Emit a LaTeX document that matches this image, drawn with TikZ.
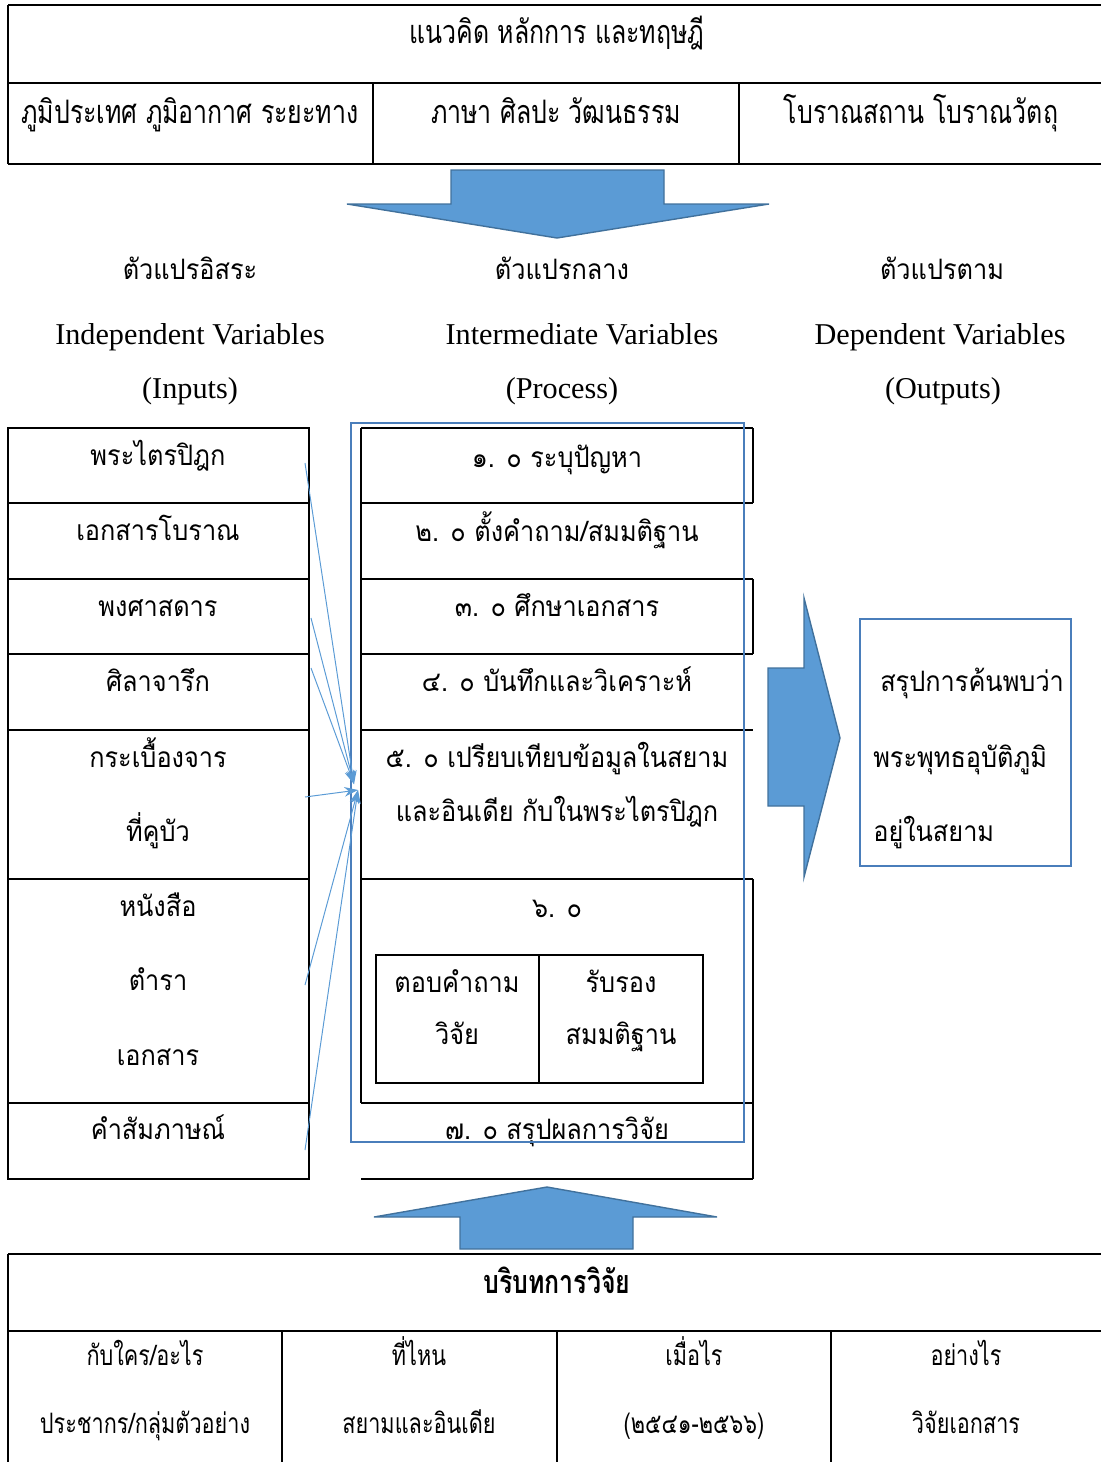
\documentclass[tikz,border=0pt]{standalone}
\usepackage{fontspec}
\setmainfont{Liberation Serif}
\newfontfamily\thaifont[Script=Thai,FakeStretch=0.9]{Loma}
\newfontfamily\thaitall[Script=Thai,FakeStretch=0.77]{Loma}
\usepackage{tikz}
\usetikzlibrary{arrows.meta}
\definecolor{bluex}{HTML}{5B9BD5}
\definecolor{blueedge}{HTML}{41719C}
\definecolor{framex}{HTML}{4A7EBB}
\tikzset{
  grid/.style={line width=1.3pt,black},
  thingrid/.style={line width=0.8pt,black},
  bigarrow/.style={fill=bluex,draw=blueedge,line width=1pt,line join=miter},
  feed/.style={-{Stealth[length=3.4mm,width=2.4mm]},bluex,line width=0.7pt},
  frame/.style={draw=framex,line width=1.8pt},
  cell/.style={font=\thaifont\fontsize{20}{24}\selectfont,inner sep=0pt,anchor=base},
  tabtext/.style={font=\thaitall\fontsize{23}{27}\selectfont,inner sep=0pt,anchor=base},
  ctxtext/.style={font=\thaitall\fontsize{20}{24}\selectfont,inner sep=0pt,anchor=base},
  head/.style={font=\fontsize{21.5}{25}\selectfont,inner sep=0pt,anchor=base}
}
\begin{document}
\begin{tikzpicture}[x=0.025cm,y=-0.025cm]
\useasboundingbox (0,0) rectangle (1101,1462);
% top table: concepts
\draw[grid] (8,5) -- (1101,5) (8,83) -- (1101,83) (8,164) -- (1101,164);
\draw[grid] (8,5) -- (8,164) (373,83) -- (373,164) (739,83) -- (739,164);
\node[tabtext] (concept) at (557,43) {แนวคิด หลักการ และทฤษฎี};
\node[tabtext] (geo) at (190,123) {ภูมิประเทศ ภูมิอากาศ ระยะทาง};
\node[tabtext] (lang) at (556,123) {ภาษา ศิลปะ วัฒนธรรม};
\node[tabtext] (site) at (921,123) {โบราณสถาน โบราณวัตถุ};
\draw[bigarrow] (451,170) -- (664,170) -- (664,204) -- (769,204) -- (557,238)
  -- (347,204) -- (451,204) -- cycle;
% headings
\node[cell] (hin) at (190,279) {ตัวแปรอิสระ};
\node[cell] (hmid) at (562,279) {ตัวแปรกลาง};
\node[cell] (hout) at (942,279) {ตัวแปรตาม};
\node[head] (ein) at (190,344) {Independent Variables};
\node[head] (emid) at (582,344) {Intermediate Variables};
\node[head] (eout) at (940,344) {Dependent Variables};
\node[head] (pin) at (190,398) {(Inputs)};
\node[head] (pmid) at (562,398) {(Process)};
\node[head] (pout) at (943,398) {(Outputs)};
% inputs column
\draw[grid] (8,428) rectangle (309,1179);
\foreach \yy in {503,579,654,730,879,1103}
  \draw[grid] (8,\yy) -- (309,\yy);
\node[cell] (in1) at (158,465) {พระไตรปิฎก};
\node[cell] (in2) at (158,540) {เอกสารโบราณ};
\node[cell] (in3) at (158,616) {พงศาสดาร};
\node[cell] (in4) at (158,691) {ศิลาจารึก};
\node[cell] (in5) at (158,767) {กระเบื้องจาร};
\node[cell] (in5b) at (158,841) {ที่คูบัว};
\node[cell] (in6) at (158,916) {หนังสือ};
\node[cell] (in6b) at (158,990) {ตำรา};
\node[cell] (in6c) at (158,1065) {เอกสาร};
\node[cell] (in7) at (158,1139) {คำสัมภาษณ์};
% process column
\foreach \yy in {428,503,579,654,730,879,1103,1179}
  \draw[grid] (361,\yy) -- (753,\yy);
\draw[thingrid] (361,428) -- (361,1103);
\draw[grid] (753,428) -- (753,503) (753,579) -- (753,654) (753,879) -- (753,1179);
\node[cell] (p1) at (557,467) {๑. ๐ ระบุปัญหา};
\node[cell] (p2) at (557,541) {๒. ๐ ตั้งคำถาม/สมมติฐาน};
\node[cell] (p3) at (557,616) {๓. ๐ ศึกษาเอกสาร};
\node[cell] (p4) at (557,691) {๔. ๐ บันทึกและวิเคราะห์};
\node[cell] (p5) at (557,767) {๕. ๐ เปรียบเทียบข้อมูลในสยาม};
\node[cell] (p5b) at (557,821) {และอินเดีย กับในพระไตรปิฎก};
\node[cell] (p6) at (557,917) {๖. ๐};
\draw[grid] (376,955) rectangle (703,1083) (539,955) -- (539,1083);
\node[cell] (ans) at (457,992) {ตอบคำถาม};
\node[cell] (ansb) at (457,1044) {วิจัย};
\node[cell] (acc) at (621,992) {รับรอง};
\node[cell] (accb) at (621,1044) {สมมติฐาน};
\node[cell] (p7) at (557,1139) {๗. ๐ สรุปผลการวิจัย};
\draw[frame] (351,423) rectangle (744,1142);
% feeds into the process
\coordinate (hub) at (354,784);
\coordinate (hubb) at (358,790);
\coordinate (f1) at (305,463);
\coordinate (f2) at (311,618);
\coordinate (f3) at (311,668);
\coordinate (f4) at (305,797);
\coordinate (f5) at (305,985);
\coordinate (f6) at (305,1150);
\draw[feed] (f1) -- (hub);
\draw[feed] (f2) -- (hub);
\draw[feed] (f3) -- (hub);
\draw[feed] (f4) -- (hubb);
\draw[feed] (f5) -- (hubb);
\draw[feed] (f6) -- (hubb);
% outputs
\draw[bigarrow] (768,668) -- (804,668) -- (804,598) -- (840,738) -- (804,877)
  -- (804,806) -- (768,806) -- cycle;
\draw[frame] (860,619) rectangle (1071,866);
\node[cell,anchor=base west] (out1) at (880,691) {สรุปการค้นพบว่า};
\node[cell,anchor=base west] (out2) at (873,767) {พระพุทธอุบัติภูมิ};
\node[cell,anchor=base west] (out3) at (873,841) {อยู่ในสยาม};
% bottom table: context
\draw[bigarrow] (460,1249) -- (633,1249) -- (633,1217) -- (717,1217) -- (547,1187)
  -- (374,1217) -- (460,1217) -- cycle;
\draw[grid] (8,1254) -- (1101,1254) (8,1331) -- (1101,1331);
\draw[grid] (8,1254) -- (8,1462) (282,1331) -- (282,1462) (557,1331) -- (557,1462)
  (831,1331) -- (831,1462);
\node[tabtext,font=\thaitall\bfseries\fontsize{23}{27}\selectfont] (ctx) at (557,1293) {บริบทการวิจัย};
\node[ctxtext] (who) at (145,1365) {กับใคร/อะไร};
\node[ctxtext] (whob) at (145,1433) {ประชากร/กลุ่มตัวอย่าง};
\node[ctxtext] (where) at (419,1365) {ที่ไหน};
\node[ctxtext] (whereb) at (419,1433) {สยามและอินเดีย};
\node[ctxtext] (when) at (694,1365) {เมื่อไร};
\node[ctxtext] (whenb) at (694,1433) {(๒๕๔๑-๒๕๖๖)};
\node[ctxtext] (how) at (966,1365) {อย่างไร};
\node[ctxtext] (howb) at (966,1433) {วิจัยเอกสาร};
\end{tikzpicture}
\end{document}
